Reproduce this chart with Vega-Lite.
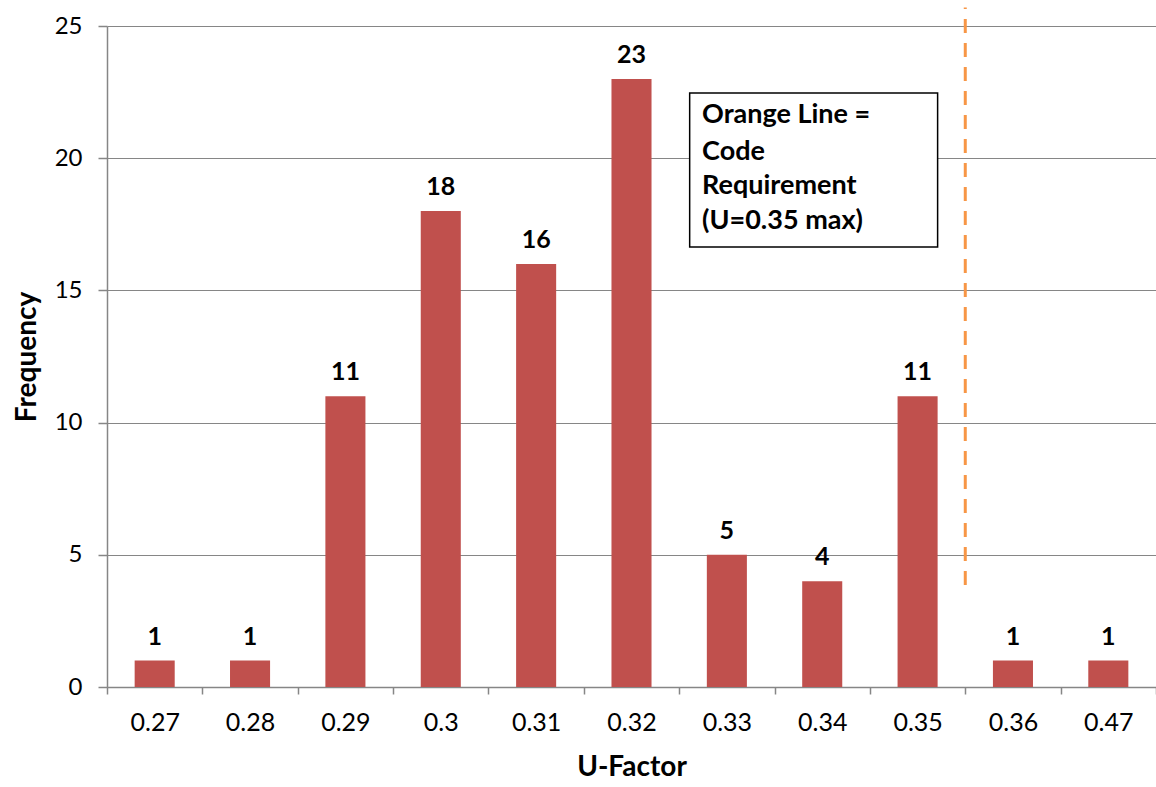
{
  "$schema": "https://vega.github.io/schema/vega-lite/v6.json",
  "width": 1049,
  "height": 661,
  "autosize": "none",
  "padding": {"left": 107, "top": 26, "right": 0, "bottom": 100},
  "background": "white",
  "config": {
    "font": "Lato",
    "view": {"stroke": null}
  },
  "datasets": {
    "counts": [
      {"u": "0.27", "n": 1},
      {"u": "0.28", "n": 1},
      {"u": "0.29", "n": 11},
      {"u": "0.3", "n": 18},
      {"u": "0.31", "n": 16},
      {"u": "0.32", "n": 23},
      {"u": "0.33", "n": 5},
      {"u": "0.34", "n": 4},
      {"u": "0.35", "n": 11},
      {"u": "0.36", "n": 1},
      {"u": "0.47", "n": 1}
    ],
    "limit": [{"pos": 9, "lo": 3.86, "hi": 25.7}],
    "box": [{"x1": 6.11, "x2": 8.71, "y1": 16.64, "y2": 22.47}],
    "note": [
      {"pos": 6.24, "y": 21.63, "line": "Orange Line ="},
      {"pos": 6.24, "y": 20.22, "line": "Code"},
      {"pos": 6.24, "y": 18.93, "line": "Requirement"},
      {"pos": 6.24, "y": 17.64, "line": "(U=0.35 max)"}
    ]
  },
  "resolve": {"scale": {"x": "independent"}, "axis": {"x": "independent"}},
  "layer": [
    {
      "data": {"name": "counts"},
      "layer": [
        {
          "mark": {"type": "bar", "color": "#C0504D", "width": {"band": 0.42}},
          "encoding": {
            "x": {
              "field": "u",
              "type": "nominal",
              "sort": null,
              "scale": {"paddingInner": 0, "paddingOuter": 0},
              "axis": {
                "title": "U-Factor",
                "titleFontSize": 28,
                "titleFontWeight": "bold",
                "titleColor": "#000000",
                "titlePadding": 18,
                "labelAngle": 0,
                "labelFontSize": 25,
                "labelColor": "#000000",
                "labelPadding": 16,
                "tickBand": "extent",
                "tickSize": 7,
                "tickColor": "#868686",
                "tickWidth": 1.5,
                "domainColor": "#868686",
                "domainWidth": 1.5,
                "grid": false
              }
            },
            "y": {
              "field": "n",
              "type": "quantitative",
              "scale": {"domain": [0, 25], "nice": false},
              "axis": {
                "title": "Frequency",
                "titleFontSize": 28,
                "titleFontWeight": "bold",
                "titleColor": "#000000",
                "titlePadding": 13,
                "values": [0, 5, 10, 15, 20, 25],
                "labelFontSize": 24,
                "labelColor": "#000000",
                "labelPadding": 16,
                "tickSize": 9,
                "tickColor": "#868686",
                "tickWidth": 1.5,
                "domainColor": "#868686",
                "domainWidth": 1.5,
                "grid": true,
                "gridColor": "#868686",
                "gridWidth": 1.2
              }
            }
          }
        },
        {
          "mark": {"type": "text", "baseline": "alphabetic", "dy": -16, "fontSize": 25, "fontWeight": "bold", "color": "#000000"},
          "encoding": {
            "x": {"field": "u", "type": "nominal", "sort": null},
            "y": {"field": "n", "type": "quantitative"},
            "text": {"field": "n", "type": "quantitative"}
          }
        }
      ]
    },
    {
      "layer": [
        {
          "data": {"name": "limit"},
          "mark": {"type": "rule", "color": "#F79646", "strokeWidth": 3, "strokeDash": [14, 10]},
          "encoding": {
            "x": {"field": "pos", "type": "quantitative", "scale": {"domain": [0, 11], "nice": false, "zero": false}, "axis": null},
            "y": {"field": "lo", "type": "quantitative"},
            "y2": {"field": "hi"}
          }
        },
        {
          "data": {"name": "box"},
          "mark": {"type": "rect", "fill": "white", "stroke": "#000000", "strokeWidth": 1.5},
          "encoding": {
            "x": {"field": "x1", "type": "quantitative", "scale": {"domain": [0, 11], "nice": false, "zero": false}, "axis": null},
            "x2": {"field": "x2"},
            "y": {"field": "y1", "type": "quantitative"},
            "y2": {"field": "y2"}
          }
        },
        {
          "data": {"name": "note"},
          "mark": {"type": "text", "align": "left", "baseline": "middle", "fontSize": 27, "fontWeight": "bold", "color": "#000000"},
          "encoding": {
            "x": {"field": "pos", "type": "quantitative", "scale": {"domain": [0, 11], "nice": false, "zero": false}, "axis": null},
            "y": {"field": "y", "type": "quantitative"},
            "text": {"field": "line", "type": "nominal"}
          }
        }
      ]
    }
  ]
}
